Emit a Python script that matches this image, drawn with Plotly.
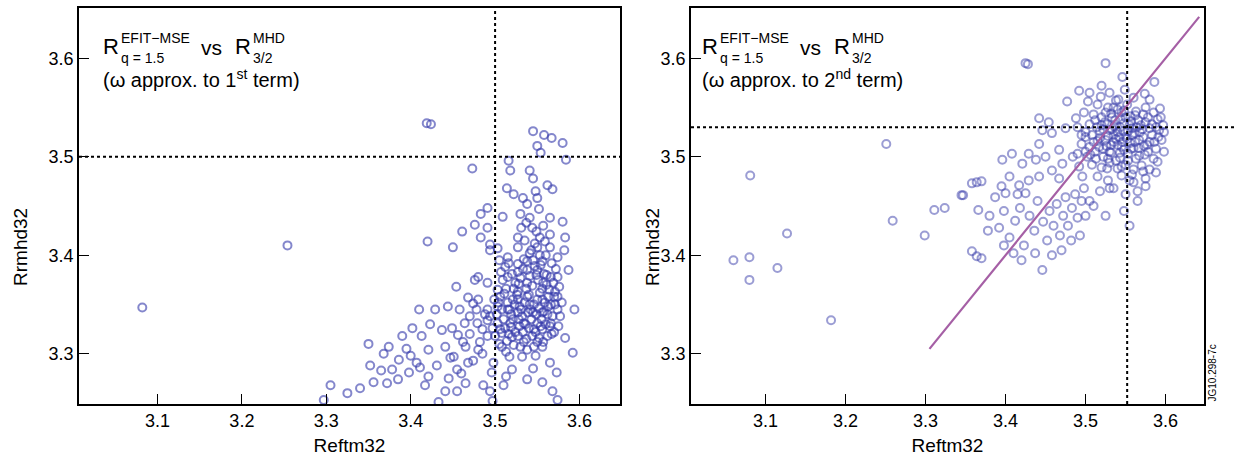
import plotly.graph_objects as go

# ---------------- data ----------------
left_points = [
    (3.082, 3.347), (3.254, 3.410), (3.419, 3.534), (3.424, 3.533), (3.473, 3.488),
    (3.545, 3.526), (3.558, 3.522), (3.567, 3.519), (3.580, 3.514), (3.550, 3.511), (3.554, 3.504),
    (3.584, 3.497), (3.516, 3.496), (3.518, 3.486), (3.541, 3.486), (3.545, 3.478), (3.562, 3.471),
    (3.568, 3.467), (3.514, 3.468), (3.522, 3.462), (3.533, 3.458), (3.550, 3.458), (3.491, 3.448),
    (3.483, 3.442), (3.509, 3.439), (3.530, 3.442), (3.541, 3.438), (3.565, 3.438), (3.580, 3.434),
    (3.476, 3.431), (3.491, 3.428), (3.461, 3.424), (3.420, 3.414), (3.450, 3.408), (3.483, 3.418),
    (3.494, 3.411), (3.527, 3.418), (3.549, 3.424), (3.565, 3.421), (3.583, 3.418), (3.494, 3.405),
    (3.503, 3.407), (3.527, 3.408), (3.550, 3.408), (3.565, 3.408), (3.582, 3.405), (3.515, 3.398),
    (3.527, 3.391), (3.538, 3.394), (3.556, 3.394), (3.574, 3.398), (3.587, 3.385), (3.480, 3.378),
    (3.454, 3.368), (3.476, 3.375), (3.491, 3.372), (3.515, 3.378), (3.527, 3.383), (3.550, 3.385),
    (3.566, 3.378), (3.513, 3.366), (3.527, 3.363), (3.538, 3.372), (3.556, 3.366), (3.571, 3.363),
    (3.468, 3.357), (3.480, 3.355), (3.506, 3.358), (3.521, 3.355), (3.538, 3.358), (3.556, 3.355),
    (3.574, 3.358), (3.594, 3.345), (3.410, 3.345), (3.429, 3.345), (3.444, 3.348), (3.458, 3.345),
    (3.474, 3.351), (3.491, 3.345), (3.503, 3.348), (3.515, 3.345), (3.527, 3.342), (3.542, 3.345),
    (3.556, 3.342), (3.574, 3.345), (3.402, 3.326), (3.449, 3.326), (3.464, 3.331), (3.479, 3.331),
    (3.491, 3.334), (3.503, 3.331), (3.518, 3.331), (3.534, 3.331), (3.550, 3.331), (3.566, 3.331),
    (3.456, 3.319), (3.491, 3.318), (3.508, 3.321), (3.527, 3.318), (3.562, 3.318), (3.583, 3.316),
    (3.374, 3.307), (3.421, 3.304), (3.441, 3.307), (3.465, 3.307), (3.480, 3.304), (3.508, 3.307),
    (3.530, 3.307), (3.546, 3.307), (3.556, 3.307), (3.592, 3.301), (3.386, 3.294), (3.407, 3.291),
    (3.451, 3.297), (3.468, 3.291), (3.498, 3.291), (3.517, 3.297), (3.532, 3.297), (3.565, 3.291),
    (3.378, 3.284), (3.398, 3.281), (3.411, 3.286), (3.421, 3.277), (3.455, 3.284), (3.496, 3.281),
    (3.513, 3.277), (3.538, 3.274), (3.573, 3.281), (3.356, 3.271), (3.385, 3.274), (3.441, 3.262),
    (3.455, 3.262), (3.494, 3.262), (3.433, 3.251), (3.574, 3.253),
    (3.505, 3.395), (3.512, 3.388), (3.520, 3.381), (3.524, 3.372), (3.530, 3.377), (3.533, 3.386),
    (3.537, 3.366), (3.541, 3.379), (3.544, 3.369), (3.547, 3.389), (3.551, 3.375), (3.553, 3.362),
    (3.558, 3.381), (3.561, 3.370), (3.563, 3.358), (3.566, 3.350), (3.569, 3.372), (3.572, 3.386),
    (3.576, 3.368), (3.579, 3.352), (3.511, 3.361), (3.515, 3.352), (3.519, 3.340), (3.523, 3.350),
    (3.526, 3.360), (3.529, 3.348), (3.532, 3.338), (3.535, 3.352), (3.539, 3.342), (3.543, 3.335),
    (3.546, 3.350), (3.549, 3.340), (3.552, 3.346), (3.555, 3.335), (3.559, 3.352), (3.562, 3.340),
    (3.565, 3.328), (3.568, 3.338), (3.571, 3.350), (3.577, 3.338), (3.502, 3.340), (3.506, 3.325),
    (3.510, 3.335), (3.514, 3.313), (3.519, 3.327), (3.524, 3.322), (3.529, 3.328), (3.533, 3.322),
    (3.537, 3.315), (3.540, 3.326), (3.544, 3.318), (3.548, 3.322), (3.552, 3.316), (3.556, 3.325),
    (3.560, 3.330), (3.497, 3.326), (3.494, 3.338), (3.499, 3.355), (3.503, 3.365), (3.509, 3.375),
    (3.500, 3.318), (3.505, 3.310), (3.513, 3.302), (3.522, 3.309), (3.538, 3.304), (3.548, 3.298),
    (3.557, 3.312), (3.570, 3.322), (3.575, 3.328), (3.485, 3.325), (3.488, 3.340), (3.478, 3.345),
    (3.470, 3.338), (3.482, 3.312), (3.470, 3.320), (3.462, 3.312), (3.547, 3.412), (3.541, 3.402),
    (3.535, 3.415), (3.553, 3.400), (3.559, 3.414), (3.544, 3.428), (3.552, 3.447), (3.557, 3.430),
    (3.538, 3.452), (3.548, 3.465), (3.531, 3.428), (3.537, 3.433),
    (3.325, 3.260), (3.340, 3.265), (3.352, 3.288), (3.365, 3.283), (3.368, 3.300), (3.372, 3.270),
    (3.390, 3.318), (3.395, 3.305), (3.400, 3.298), (3.413, 3.318), (3.423, 3.330), (3.431, 3.288),
    (3.437, 3.324), (3.447, 3.296), (3.460, 3.280), (3.474, 3.293), (3.465, 3.270), (3.485, 3.300),
    (3.486, 3.268), (3.497, 3.252), (3.510, 3.268), (3.520, 3.284), (3.545, 3.285), (3.556, 3.271),
    (3.568, 3.262), (3.305, 3.268), (3.297, 3.253), (3.350, 3.310), (3.417, 3.268), (3.445, 3.275),
    (3.507, 3.383), (3.516, 3.392), (3.522, 3.366), (3.528, 3.371), (3.534, 3.396), (3.540, 3.360),
    (3.545, 3.395), (3.549, 3.380), (3.554, 3.390), (3.557, 3.372), (3.561, 3.380), (3.564, 3.365),
    (3.567, 3.392), (3.570, 3.358), (3.574, 3.378), (3.517, 3.345), (3.521, 3.335), (3.527, 3.355),
    (3.531, 3.345), (3.536, 3.330), (3.541, 3.350), (3.545, 3.342), (3.550, 3.355), (3.554, 3.328),
    (3.558, 3.343), (3.563, 3.348), (3.567, 3.320), (3.512, 3.326), (3.516, 3.320), (3.528, 3.335),
    (3.534, 3.312), (3.546, 3.325), (3.550, 3.312), (3.520, 3.317), (3.508, 3.345), (3.504, 3.352),
    (3.538, 3.385), (3.543, 3.405), (3.553, 3.418), (3.560, 3.400),
]

right_points = [
    (3.060, 3.395), (3.081, 3.481), (3.080, 3.398), (3.080, 3.375), (3.115, 3.387), (3.127, 3.422),
    (3.182, 3.334), (3.259, 3.435), (3.251, 3.513), (3.299, 3.420), (3.311, 3.446), (3.324, 3.448),
    (3.347, 3.461), (3.358, 3.473), (3.364, 3.474), (3.366, 3.446), (3.358, 3.404), (3.364, 3.399),
    (3.370, 3.397), (3.425, 3.595), (3.428, 3.594), (3.525, 3.595),
    (3.345, 3.461), (3.370, 3.475), (3.387, 3.459), (3.400, 3.463), (3.417, 3.471), (3.425, 3.463),
    (3.429, 3.476), (3.442, 3.480), (3.467, 3.478), (3.475, 3.459), (3.396, 3.497), (3.408, 3.503),
    (3.421, 3.493), (3.429, 3.503), (3.438, 3.497), (3.442, 3.513), (3.450, 3.500), (3.458, 3.486),
    (3.467, 3.507), (3.471, 3.493), (3.484, 3.500), (3.492, 3.490), (3.496, 3.480), (3.442, 3.539),
    (3.454, 3.535), (3.446, 3.527), (3.458, 3.524), (3.475, 3.529), (3.488, 3.539), (3.500, 3.520),
    (3.477, 3.556), (3.492, 3.567), (3.503, 3.556), (3.519, 3.561), (3.538, 3.557), (3.546, 3.581),
    (3.586, 3.576), (3.574, 3.564), (3.593, 3.549), (3.597, 3.532), (3.591, 3.520), (3.572, 3.485),
    (3.555, 3.476), (3.530, 3.468),
    (3.380, 3.440), (3.392, 3.428), (3.398, 3.445), (3.405, 3.418), (3.412, 3.435), (3.418, 3.448),
    (3.423, 3.410), (3.430, 3.440), (3.436, 3.425), (3.440, 3.455), (3.447, 3.434), (3.452, 3.415),
    (3.455, 3.445), (3.460, 3.430), (3.464, 3.452), (3.468, 3.420), (3.472, 3.440), (3.478, 3.430),
    (3.483, 3.448), (3.487, 3.462), (3.490, 3.438), (3.495, 3.455), (3.498, 3.468), (3.446, 3.385),
    (3.420, 3.395), (3.437, 3.402), (3.458, 3.400), (3.470, 3.405), (3.482, 3.415), (3.493, 3.420),
    (3.500, 3.440), (3.505, 3.455), (3.398, 3.410), (3.410, 3.402), (3.378, 3.425), (3.395, 3.470),
    (3.405, 3.480), (3.415, 3.462),
    (3.515, 3.553), (3.528, 3.550), (3.540, 3.548), (3.552, 3.553), (3.563, 3.546), (3.575, 3.550),
    (3.585, 3.545), (3.510, 3.543), (3.520, 3.540), (3.532, 3.544), (3.544, 3.538), (3.556, 3.541),
    (3.566, 3.537), (3.578, 3.540), (3.590, 3.538), (3.505, 3.533), (3.514, 3.530), (3.524, 3.535),
    (3.536, 3.531), (3.548, 3.534), (3.558, 3.529), (3.569, 3.532), (3.580, 3.529), (3.592, 3.527),
    (3.500, 3.525), (3.508, 3.522), (3.518, 3.526), (3.528, 3.521), (3.540, 3.525), (3.550, 3.520),
    (3.561, 3.524), (3.572, 3.520), (3.583, 3.522), (3.595, 3.517), (3.495, 3.513), (3.505, 3.510),
    (3.515, 3.516), (3.526, 3.511), (3.535, 3.515), (3.545, 3.510), (3.556, 3.514), (3.566, 3.509),
    (3.577, 3.512), (3.588, 3.508), (3.490, 3.503), (3.502, 3.500), (3.512, 3.505), (3.522, 3.500),
    (3.532, 3.504), (3.543, 3.499), (3.553, 3.503), (3.563, 3.498), (3.574, 3.502), (3.585, 3.498),
    (3.508, 3.492), (3.520, 3.489), (3.530, 3.494), (3.540, 3.488), (3.550, 3.492), (3.560, 3.487),
    (3.570, 3.491), (3.580, 3.487), (3.515, 3.480), (3.528, 3.476), (3.545, 3.481), (3.560, 3.474),
    (3.575, 3.478), (3.588, 3.484), (3.535, 3.468), (3.550, 3.462), (3.518, 3.465), (3.565, 3.465),
    (3.530, 3.527), (3.535, 3.522), (3.538, 3.518), (3.543, 3.530), (3.547, 3.526), (3.552, 3.518),
    (3.525, 3.517), (3.520, 3.532), (3.533, 3.540), (3.540, 3.512), (3.545, 3.545), (3.555, 3.532),
    (3.558, 3.522), (3.548, 3.507), (3.530, 3.505), (3.525, 3.545), (3.517, 3.510), (3.538, 3.496),
    (3.562, 3.515), (3.568, 3.525), (3.572, 3.543), (3.580, 3.515), (3.513, 3.498), (3.527, 3.488),
    (3.530, 3.565), (3.560, 3.560), (3.549, 3.568), (3.520, 3.572), (3.505, 3.565), (3.580, 3.558),
    (3.498, 3.545), (3.490, 3.530), (3.565, 3.455), (3.548, 3.445), (3.555, 3.430), (3.525, 3.440),
    (3.510, 3.450), (3.575, 3.470), (3.590, 3.495), (3.598, 3.505),
    (3.512, 3.537), (3.522, 3.528), (3.527, 3.533), (3.532, 3.512), (3.537, 3.537), (3.542, 3.520),
    (3.546, 3.515), (3.550, 3.540), (3.553, 3.526), (3.557, 3.536), (3.560, 3.509), (3.564, 3.530),
    (3.567, 3.517), (3.571, 3.528), (3.575, 3.535), (3.578, 3.505), (3.583, 3.533), (3.586, 3.515),
    (3.518, 3.519), (3.522, 3.508), (3.528, 3.498), (3.533, 3.528), (3.543, 3.504), (3.548, 3.547),
    (3.553, 3.496), (3.557, 3.508), (3.562, 3.542), (3.567, 3.501), (3.573, 3.511), (3.510, 3.515),
    (3.506, 3.502), (3.535, 3.550), (3.541, 3.558), (3.588, 3.530), (3.594, 3.540), (3.598, 3.525),
    (3.500, 3.505), (3.495, 3.522), (3.545, 3.490), (3.558, 3.482),
]

fit_x = [3.305, 3.642]
fit_y = [3.305, 3.642]

left_vline = 3.50
left_hline = 3.50
right_vline = 3.552
right_hline = 3.530

x_ticks = [3.1, 3.2, 3.3, 3.4, 3.5, 3.6]
y_ticks = [3.3, 3.4, 3.5, 3.6]
x_range = [3.007, 3.648]
y_range = [3.249, 3.651]

x_title = "Reftm32"
y_title = "Rrmhd32"
stamp = "JG10.298-7c"

# ---------------- figure ----------------
W, H = 1235, 463
FONT = "Liberation Sans, Arial, Helvetica, sans-serif"


def px(x):
    return x / W


def py(y):
    return 1 - y / H


lx, ly = zip(*left_points)
rx, ry = zip(*right_points)

fig = go.Figure()
col_l = "rgba(50,55,170,0.6)"
col_r = "rgba(55,60,170,0.5)"
marker_l = dict(symbol="circle-open", size=8, color=col_l, line=dict(width=2, color=col_l))
marker_r = dict(symbol="circle-open", size=8, color=col_r, line=dict(width=2, color=col_r))
fig.add_trace(go.Scatter(x=lx, y=ly, mode="markers", marker=marker_l,
                         xaxis="x", yaxis="y", showlegend=False))
fig.add_trace(go.Scatter(x=rx, y=ry, mode="markers", marker=marker_r,
                         xaxis="x2", yaxis="y2", showlegend=False))
fig.add_trace(go.Scatter(x=fit_x, y=fit_y, mode="lines",
                         line=dict(color="rgb(165,95,165)", width=2.2),
                         xaxis="x2", yaxis="y2", showlegend=False))

ydom = [py(404), py(8)]
axis_common = dict(
    showgrid=False, zeroline=False, showline=True, linecolor="black", linewidth=1.5,
    mirror=True, ticks="inside", ticklen=10, tickwidth=1.2, tickcolor="black",
    tickfont=dict(family=FONT, size=18, color="black"),
)
fig.update_layout(
    width=W, height=H, margin=dict(l=0, r=0, t=0, b=0),
    paper_bgcolor="white", plot_bgcolor="white",
    font=dict(family=FONT, color="black"),
    xaxis=dict(domain=[px(79), px(620)], range=x_range, tickvals=x_ticks,
               ticktext=[f"{v:.1f}" for v in x_ticks],
               title=dict(text=x_title, font=dict(size=19), standoff=8), anchor="y", **axis_common),
    yaxis=dict(domain=ydom, range=y_range, tickvals=y_ticks,
               ticktext=[f"{v:.1f}" for v in y_ticks], anchor="x", **axis_common),
    xaxis2=dict(domain=[px(691), px(1204)], range=x_range, tickvals=x_ticks,
                ticktext=[f"{v:.1f}" for v in x_ticks],
                title=dict(text=x_title, font=dict(size=19), standoff=8), anchor="y2", **axis_common),
    yaxis2=dict(domain=ydom, range=y_range, tickvals=y_ticks,
                ticktext=[f"{v:.1f}" for v in y_ticks], anchor="x2", **axis_common),
)

dot = dict(color="black", width=2, dash="dot")
shapes = [
    dict(type="line", xref="x", yref="paper", x0=left_vline, x1=left_vline, y0=ydom[0], y1=ydom[1], line=dot),
    dict(type="line", xref="paper", yref="y", x0=px(79), x1=px(620), y0=left_hline, y1=left_hline, line=dot),
    dict(type="line", xref="x2", yref="paper", x0=right_vline, x1=right_vline, y0=ydom[0], y1=ydom[1], line=dot),
    dict(type="line", xref="paper", yref="y2", x0=px(691), x1=1.0, y0=right_hline, y1=right_hline, line=dot),
]
fig.update_layout(shapes=shapes)

annotations = []


def label(x0, ordinal, sup):
    a = []
    big, small = 22, 14
    a.append(dict(text="R", x=px(x0), y=py(46), font=dict(size=big)))
    a.append(dict(text="EFIT\u2212MSE", x=px(x0 + 18), y=py(38), font=dict(size=small)))
    a.append(dict(text="q = 1.5", x=px(x0 + 18), y=py(58), font=dict(size=small)))
    a.append(dict(text="vs", x=px(x0 + 98), y=py(48), font=dict(size=21)))
    a.append(dict(text="R", x=px(x0 + 132), y=py(46), font=dict(size=big)))
    a.append(dict(text="MHD", x=px(x0 + 150), y=py(38), font=dict(size=small)))
    a.append(dict(text="3/2", x=px(x0 + 150), y=py(58), font=dict(size=small)))
    a.append(dict(text=f"(\u03c9 approx. to {ordinal}<sup>{sup}</sup> term)", x=px(x0), y=py(78),
                  font=dict(size=20)))
    return a


for a in label(101, "1", "st") + label(700, "2", "nd"):
    a.update(xref="paper", yref="paper", showarrow=False, xanchor="left", yanchor="middle")
    a["font"]["family"] = FONT
    a["font"]["color"] = "black"
    annotations.append(a)

for xc in (20, 652):
    annotations.append(dict(text=y_title, xref="paper", yref="paper", x=px(xc), y=py(247),
                            xanchor="center", yanchor="middle", textangle=-90, showarrow=False,
                            font=dict(family=FONT, size=19, color="black")))

annotations.append(dict(text=stamp, xref="paper", yref="paper", x=px(1212), y=py(404),
                        xanchor="center", yanchor="bottom", textangle=-90, showarrow=False,
                        font=dict(family=FONT, size=10, color="black")))
fig.update_layout(annotations=annotations)

fig.write_html("out.html")
